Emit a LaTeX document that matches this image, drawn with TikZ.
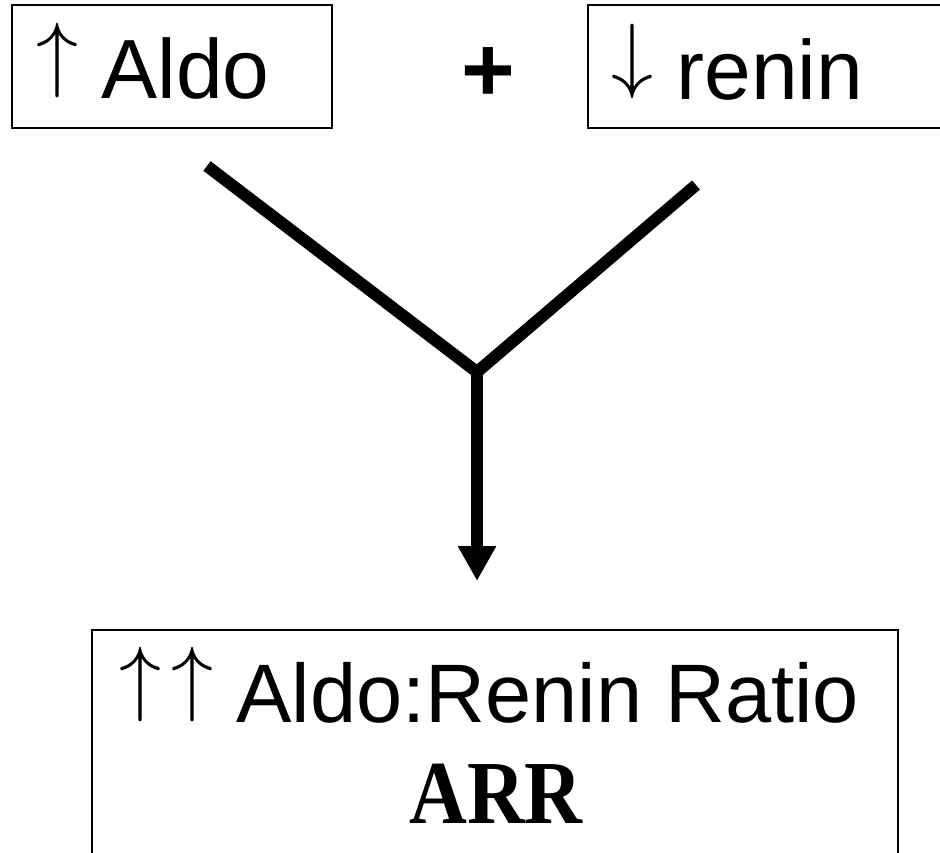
\documentclass[tikz,border=0pt]{standalone}
\usepackage{fontspec}
\setmainfont{Liberation Sans}
\newfontfamily\arrfont{Liberation Serif}
\usetikzlibrary{arrows.meta}

% Arrow glyphs set at 10pt, lifted onto the baseline and enlarged
\newcommand{\upar}{\scalebox{8.4}{\fontsize{10}{12}\selectfont\raisebox{1.94pt}{$\uparrow$}}}
\newcommand{\downar}{\scalebox{8.4}{\fontsize{10}{12}\selectfont\raisebox{1.94pt}{$\downarrow$}}}

\tikzset{
  box/.style={draw, line width=2pt, rectangle, inner sep=0pt},
  label/.style={inner sep=0pt, anchor=base west, font=\fontsize{84}{90}\selectfont},
  flow/.style={line width=12pt, line join=miter},
}

\begin{document}
\begin{tikzpicture}[x=1pt,y=-1pt]
  \useasboundingbox (0,0) rectangle (940,852);
  \clip (0,0) rectangle (940,852);

  % input boxes
  \node[box, minimum width=320pt, minimum height=123pt] (aldo) at (172,66.5) {};
  \node[box, minimum width=372pt, minimum height=123pt] (renin) at (774,66.5) {};
  \node[label] (aldotxt) at (36,98) {\upar\ Aldo};
  \node[label] (renintxt) at (611,99) {\downar\ renin};
  \node[inner sep=0pt, font=\fontsize{92}{96}\selectfont\bfseries] (plus) at (488,75) {+};

  % result box (runs off the bottom edge)
  \node[box, minimum width=806pt, minimum height=300pt] (ratio) at (495,780) {};
  \node[label, font=\fontsize{83}{90}\selectfont] (ratiotxt) at (119,722)
    {\upar\hspace{10pt}\upar\ Aldo:Renin Ratio};
  \node[inner sep=0pt, anchor=base] (arr) at (496,823)
    {\scalebox{0.89}[1]{\arrfont\bfseries\fontsize{90}{96}\selectfont ARR}};

  % merging connector
  \coordinate (l1) at (207,166);
  \coordinate (r1) at (696,185);
  \coordinate (j) at (477,372);
  \coordinate (tip) at (477,581);
  \draw[flow] (l1) -- (j) -- (r1);
  \draw[flow, -{Triangle[width=36pt,length=35pt]}] (j) -- (tip);
\end{tikzpicture}
\end{document}
